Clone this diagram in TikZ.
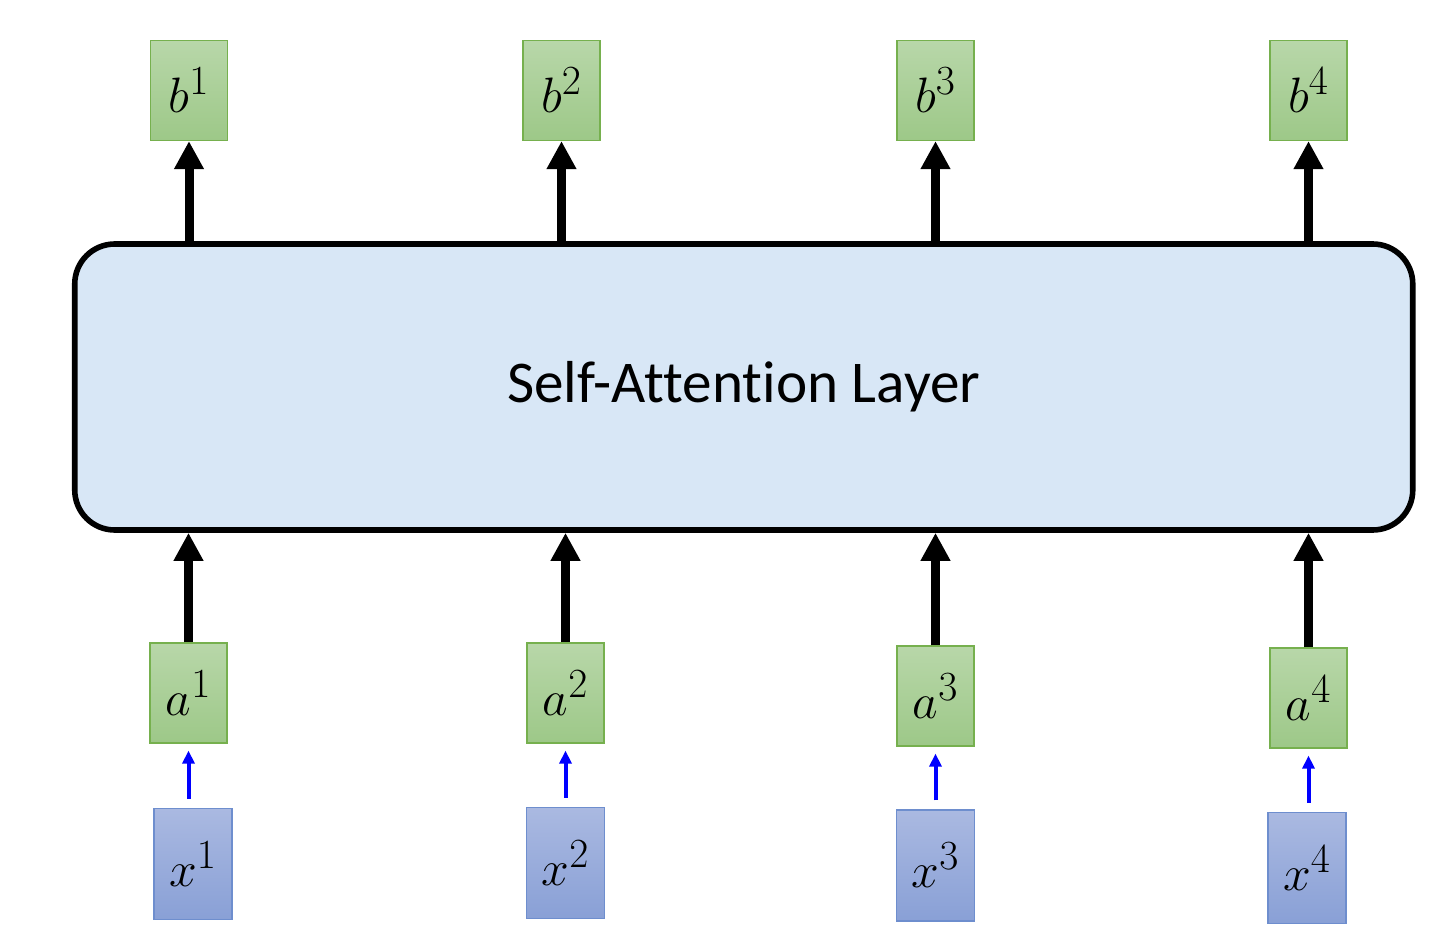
\documentclass[tikz,border=0pt]{standalone}
\usepackage[no-math]{fontspec}
\setmainfont{Carlito}[Ligatures={NoCommon,NoRare,NoContextual}]
\usepackage{xcolor}
\usetikzlibrary{positioning,arrows.meta}

\definecolor{greentop}{RGB}{184,215,169}
\definecolor{greenbot}{RGB}{157,200,136}
\definecolor{greenedge}{RGB}{118,176,78}
\definecolor{bluetop}{RGB}{170,185,225}
\definecolor{bluebot}{RGB}{137,160,214}
\definecolor{blueedge}{RGB}{110,142,206}
\definecolor{layerfill}{RGB}{216,231,246}

\begin{document}
\begin{tikzpicture}[
  x=0.5pt, y=-0.5pt,
  font=\fontsize{29.6}{35}\selectfont,
  vecbox/.style={line width=0.6pt, minimum width=38.5pt, minimum height=50pt, inner sep=0pt,
    font=\fontsize{24.88}{30}\selectfont},
  featbox/.style={vecbox, draw=greenedge, top color=greentop, bottom color=greenbot},
  wordbox/.style={vecbox, draw=blueedge, top color=bluetop, bottom color=bluebot, minimum width=39pt, minimum height=55.5pt},
  layer/.style={draw, line width=2.8pt, rounded corners=20pt, fill=layerfill,
    minimum width=669pt, minimum height=143pt},
  flow/.style={-{Triangle[width=14pt,length=14pt]}, line width=4.5pt},
  embed/.style={-{Triangle[width=6pt,length=6.5pt]}, line width=2pt, blue,
    shorten <=4.5pt, shorten >=3.5pt},
]
\useasboundingbox (0,0) rectangle (1429,947);

% The layer in the middle.
\node[layer] (sal) at (743.75,387) {Self-Attention Layer};

% Outputs on top.
\node[featbox] (b1) at (189,90.5)    {$b^1$};
\node[featbox] (b2) at (561.5,90.5)  {$b^2$};
\node[featbox] (b3) at (935.5,90.5)  {$b^3$};
\node[featbox] (b4) at (1308.5,90.5) {$b^4$};

% Inputs below, x turned into a.
\node[featbox] (a1) at (188.5,693)  {$a^1$};
\node[featbox] (a2) at (565.5,693)  {$a^2$};
\node[featbox] (a3) at (935.5,696)  {$a^3$};
\node[featbox] (a4) at (1308.5,698) {$a^4$};

\node[wordbox] (x1) at (193,864)    {$x^1$};
\node[wordbox] (x2) at (565.5,863)  {$x^2$};
\node[wordbox] (x3) at (935.5,865.5){$x^3$};
\node[wordbox] (x4) at (1307,868)   {$x^4$};

% Connectors.
\foreach \i in {1,...,4} {
  \draw[embed] (a\i |- x\i.north) -- (a\i.south);
  \draw[flow] (a\i.north) -- (a\i |- sal.south);
  \draw[flow] (b\i |- sal.north) -- (b\i.south);
}

\end{tikzpicture}
\end{document}
